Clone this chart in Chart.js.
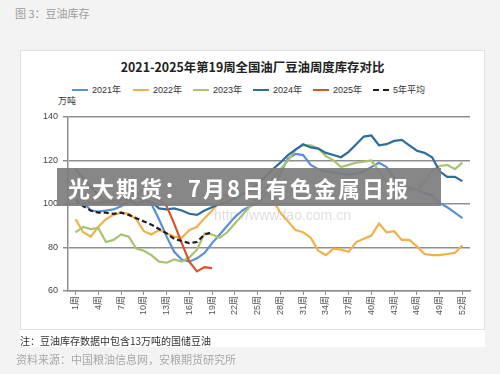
<!DOCTYPE html>
<html>
<head>
<meta charset="utf-8">
<script src="https://cdn.jsdelivr.net/npm/chart.js@4/dist/chart.umd.min.js"></script>
<style>
html, body { margin: 0; padding: 0; }
body { width: 500px; height: 374px; background: #f3f3f3; position: relative; overflow: hidden;
       font-family: 'Noto Sans CJK SC', sans-serif; }
.fig { position: absolute; left: 15px; top: 5px; font-size: 11px; color: #9d9d9d; }
.card { position: absolute; left: 20px; top: 50px; width: 465px; height: 297px; background: #fff; }
.frame { position: absolute; left: 20px; top: 50px; width: 463px; height: 278px; border: 1px solid #e0e0e0; }
.title { position: absolute; left: 20px; width: 465px; top: 58px; text-align: center; font-weight: bold;
         font-size: 12.4px; color: #222; }
.lg { position: absolute; top: 84px; font-family: 'Liberation Sans', 'Noto Sans CJK SC', sans-serif;
      font-size: 9px; color: #333; line-height: 12px; white-space: nowrap; }
.lg i { display: inline-block; width: 16px; height: 0; border-top: 2px solid; vertical-align: middle;
        margin-right: 4px; margin-top: -2px; }
.unit { position: absolute; left: 58px; top: 94px; font-size: 9px; color: #333; }
#c { position: absolute; left: 0; top: 0; }
.wm { position: absolute; left: 214px; top: 207px; font-family: 'Liberation Sans', sans-serif; font-size: 14px;
      color: rgba(160,160,160,0.35); }
.banner { position: absolute; left: 57px; top: 168px; width: 384px; height: 38px; background: rgba(125,125,125,0.92); }
.banner span { position: absolute; left: 11px; top: 0; line-height: 38px; font-size: 22px; font-weight: bold;
               color: #fff; letter-spacing: 2px; white-space: nowrap; }
.note { position: absolute; left: 20px; top: 333px; font-size: 10px; color: #333; }
.src { position: absolute; left: 16px; top: 351px; font-size: 11px; color: #a8a8a8; }
</style>
</head>
<body>
<div class="fig">图 3：豆油库存</div>
<div class="card"></div>
<div class="frame"></div>
<div class="title">2021-2025年第19周全国油厂豆油周度库存对比</div>
<div id="legend"></div>
<div class="unit">万吨</div>
<canvas id="c" width="500" height="374"></canvas>
<div class="wm">http://www.fao.com.cn</div>
<div class="banner"><span>光大期货：7月8日有色金属日报</span></div>
<div class="note">注：豆油库存数据中包含13万吨的国储豆油</div>
<div class="src">资料来源：中国粮油信息网，安粮期货研究所</div>
<script>
var weeks = [1, 2, 3, 4, 5, 6, 7, 8, 9, 10, 11, 12, 13, 14, 15, 16, 17, 18, 19, 20,
    21, 22, 23, 24, 25, 26, 27, 28, 29, 30, 31, 32, 33, 34, 35, 36, 37, 38, 39, 40,
    41, 42, 43, 44, 45, 46, 47, 48, 49, 50, 51, 52];
var tickWeeks = [1, 4, 7, 10, 13, 16, 19, 22, 25, 28, 31, 34, 37, 40, 43, 46, 49, 52];
var yTicks = [60, 80, 100, 120, 140];

var s2021 = [106, 101, 97, 96.5, 97, 97.5, 99, 101, 103, 102, 100, 93, 85, 78, 74.5, 73.5, 75, 77.5, 82, 86,
    90, 94, 97, 99, 100.5, 104, 108, 114, 121, 123, 122.5, 118, 116, 115, 114.5, 114, 113.5, 114, 115, 117,
    119, 117, 112, 108, 107.5, 106.5, 105, 104, 100.5, 98.5, 96, 93.5];
var s2022 = [93, 87, 85, 89.5, 93, 95, 96, 95.5, 93, 87.5, 86, 88, 86.5, 85, 84.5, 88, 89.5, 93.5, 97, 101,
    104, 107, 105, 106, 106, 105, 102, 96, 92, 88, 87, 84.5, 78.5, 76.5, 79.5, 79, 78, 82.5, 84, 85.5,
    91, 87, 87.5, 83.5, 83.5, 80.5, 77, 76.5, 76.5, 77, 77.5, 81];
var s2023 = [87, 89.5, 88.5, 89, 82.5, 83.5, 86, 85, 79.5, 78.5, 76.5, 73.5, 73, 74.5, 73.5, 75.5, 79, 86.5, 86, 84.5,
    87, 91, 95, 99, 103, 107, 112, 116, 120, 125, 127, 127, 125.5, 122, 120, 117, 118, 119, 119.5, 120,
    115, 110, 108, 107, 106.5, 106.5, 110, 115.5, 117.5, 118, 116, 119];
var s2024 = [116, 112, 108, 104, 101, 101, 102, 102, 100, 101.5, 101, 98, 97.5, 98, 97, 95.5, 95, 97, 98.5, 100,
    101, 102.5, 104.5, 106.5, 109, 112.5, 116, 119, 122.5, 125, 127.5, 126, 125.5, 123.5, 122.5, 121.5, 124, 127.5, 131, 131.5,
    127, 127.5, 129, 129.5, 127, 124.5, 123.5, 121.5, 115, 112.5, 112.5, 110.5];
var s2025 = [109, 103, 100.5, 100.5, 101, 102, 100, 101, 104, 107, 104, 102, 99, 91, 82, 73.5, 69, 71, 70.5];
var avg5 = [102, 99, 97, 96, 96, 95.5, 96, 95, 93.5, 92, 90.5, 88.5, 86.5, 84, 83, 82, 82.5, 86, 87];

var seriesNames = ['2021年', '2022年', '2023年', '2024年', '2025年', '5年平均'];
var seriesData = [s2021, s2022, s2023, s2024, s2025, avg5];
var seriesColors = ['#5b8fd8', '#f2b04c', '#a9c172', '#2b6e9b', '#d9532a', '#1e1e1e'];
var seriesDash = [[], [], [], [], [], [5, 3]];
var seriesOrder = [5, 4, 3, 2, 1, 0];
var legendLeft = [72, 133, 193, 253, 313, 373];

// legend
var lg = document.getElementById('legend');
seriesNames.forEach(function (name, i) {
    var d = document.createElement('div');
    d.className = 'lg';
    d.style.left = legendLeft[i] + 'px';
    var style = seriesDash[i].length ? 'dashed' : 'solid';
    d.innerHTML = '<i style="border-top-color:' + seriesColors[i] + ';border-top-style:' + style + '"></i>' + name;
    lg.appendChild(d);
});

var gridColor = '#8f8f8f';
var datasets = seriesNames.map(function (name, i) {
    return {
        label: name,
        data: seriesData[i].map(function (v, k) { return { x: weeks[k], y: v }; }),
        borderColor: seriesColors[i],
        borderWidth: i === 5 ? 2.2 : 2.2,
        borderDash: seriesDash[i],
        pointRadius: 0,
        tension: 0,
        fill: false,
        order: seriesOrder[i]
    };
});

new Chart(document.getElementById('c').getContext('2d'), {
    type: 'line',
    data: { datasets: datasets },
    options: {
        responsive: false,
        animation: false,
        layout: { padding: { left: 28, top: 117, right: 30, bottom: 53 } },
        plugins: { legend: { display: false }, title: { display: false }, tooltip: { enabled: false } },
        scales: {
            x: {
                type: 'linear', min: 0, max: 53,
                afterBuildTicks: function (axis) {
                    axis.ticks = tickWeeks.map(function (w) { return { value: w }; });
                },
                afterFit: function (s) { s.height = 30; },
                grid: { drawOnChartArea: false, drawTicks: true, tickLength: 4, color: gridColor, lineWidth: 1 },
                border: { display: true, color: gridColor, width: 1.5 },
                ticks: {
                    minRotation: 90, maxRotation: 90, autoSkip: false, padding: 1,
                    color: '#555',
                    font: { family: "'Liberation Sans', 'Noto Sans CJK SC', sans-serif", size: 9 },
                    callback: function (v) { return v + '周'; }
                }
            },
            y: {
                min: 60, max: 140,
                afterBuildTicks: function (axis) {
                    axis.ticks = yTicks.map(function (v) { return { value: v }; });
                },
                afterFit: function (s) { s.width = 40; },
                grid: { color: gridColor, lineWidth: 1.5, drawTicks: true, tickLength: 5 },
                border: { display: true, color: gridColor, width: 1.5 },
                ticks: {
                    padding: 5, color: '#444',
                    font: { family: "'Liberation Sans', sans-serif", size: 9 }
                }
            }
        }
    }
});
</script>
</body>
</html>
